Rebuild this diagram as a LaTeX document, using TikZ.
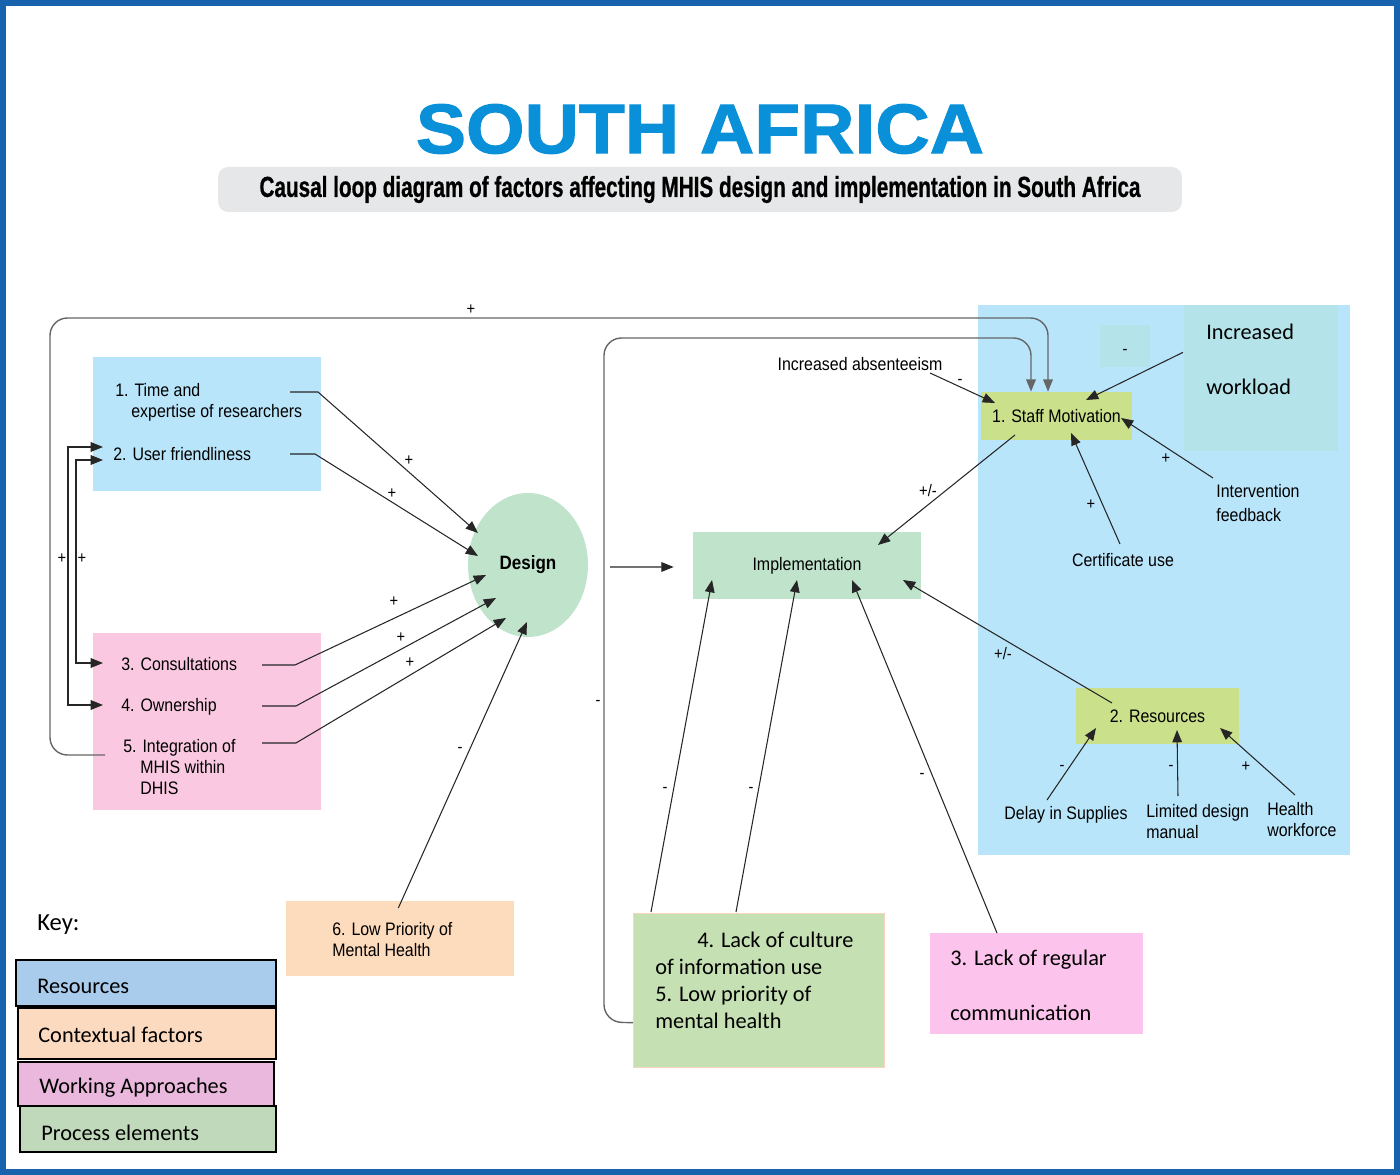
\documentclass[tikz,border=0pt]{standalone}
\usepackage{fontspec}
\usetikzlibrary{arrows.meta, positioning, shapes.geometric}

\newfontfamily\narrow[FakeStretch=0.88]{Liberation Sans}
\newfontfamily\condensed[FakeStretch=0.715, FakeBold=0.6]{Liberation Sans}
\newfontfamily\heavy[FakeBold=1.5, FakeStretch=1.07]{Liberation Sans}
\newfontfamily\calib{Carlito}

\definecolor{frameblue}{HTML}{1763AE}
\definecolor{titleblue}{HTML}{0A90D9}
\definecolor{subgray}{HTML}{E6E7E8}
\definecolor{resblue}{HTML}{B9E5FB}
\definecolor{wappink}{HTML}{FAC9E1}
\definecolor{commpink}{HTML}{FCC4EC}
\definecolor{mint}{HTML}{BFE4CB}
\definecolor{ygreen}{HTML}{CBE08A}
\definecolor{peach}{HTML}{FDDBBD}
\definecolor{peachline}{HTML}{F8D5BE}
\definecolor{procgreen}{HTML}{C5E0B3}
\definecolor{workteal}{HTML}{B4E3EA}
\definecolor{keyblue}{HTML}{A9CCEC}
\definecolor{keypeach}{HTML}{FCDAC0}
\definecolor{keypink}{HTML}{EAB8DC}
\definecolor{keygreen}{HTML}{BFD9BA}

\begin{document}
\begin{tikzpicture}[x=0.02cm, y=-0.02cm, >={Triangle[length=7pt,width=5.5pt]},
	every node/.style={inner sep=0pt},
	lbl/.style={font=\narrow\fontsize{10.3}{12}\selectfont, align=left},
	sgn/.style={font=\narrow\fontsize{9.5}{10}\selectfont},
	cal/.style={font=\calib\fontsize{12.7}{15.3}\selectfont, align=left},
	area/.style={anchor=north west, draw=none},
	arr/.style={draw=black!85, line width=0.6pt, ->},
	loopline/.style={draw=black!60, line width=0.8pt, rounded corners=0.35cm, ->},
	keybox/.style={anchor=north west, draw=black, line width=1.4pt}]
	\useasboundingbox (0,0) rectangle (1400,1175);

	% heading
	\node (title) at (700,129) [font=\heavy\bfseries\fontsize{40}{40}\selectfont, text=titleblue] {SOUTH AFRICA};
	\node (subtitle) at (700,189.5) [fill=subgray, rounded corners=0.2cm, minimum width=19.28cm,
		minimum height=0.9cm, font=\condensed\bfseries\fontsize{16.5}{16.5}\selectfont]
		{Causal loop diagram of factors affecting MHIS design and implementation in South Africa};

	% left side
	\node (resbox) at (93,357) [area, fill=resblue, minimum width=4.56cm, minimum height=2.68cm] {};
	\node (wapbox) at (93,633) [area, fill=wappink, minimum width=4.56cm, minimum height=3.54cm] {};
	\node (design) at (528,565) [ellipse, fill=mint, minimum width=2.4cm, minimum height=2.88cm,
		font=\narrow\bfseries\fontsize{11}{12}\selectfont] {Design};

	\node (time) at (115,383) [lbl, anchor=north west] {1. Time and\\\hspace*{0.32cm}expertise of researchers};
	\node (user) at (113,454) [lbl, anchor=west] {2. User friendliness};
	\node (consult) at (121,664) [lbl, anchor=west] {3. Consultations};
	\node (own) at (121,707) [lbl, anchor=west] {4. Ownership};
	\node (integ) at (123,739) [lbl, anchor=north west] {5. Integration of\\\hspace*{0.34cm}MHIS within\\\hspace*{0.34cm}DHIS};

	\node (lowpri) at (286,901) [area, fill=peach, minimum width=4.56cm, minimum height=1.5cm] {};
	\node (lowtxt) at (332,922) [lbl, anchor=north west] {6. Low Priority of\\Mental Health};

	\draw[arr] ([shift={(175,9)}]time.north west) -- ++(28,0) -- ([shift={(-50,-32)}]design.center);
	\draw[arr] ([shift={(177,0)}]user.west) -- ++(25,0) -- ([shift={(-50,-9)}]design.center);
	\draw[arr] ([shift={(141,1)}]consult.west) -- ++(33,0) -- ([shift={(-42,10)}]design.center);
	\draw[arr] ([shift={(141,-1)}]own.west) -- ++(34,0) -- ([shift={(-32,33)}]design.center);
	\draw[arr] ([shift={(139,4)}]integ.north west) -- ++(34,0) -- ([shift={(-22,53)}]design.center);
	\draw[arr] ([shift={(-2,7)}]lowpri.north) -- ([shift={(-1,57)}]design.center);

	\draw[arr, <->] ([shift={(-10,-7)}]user.west) -- (68,447) -- (68,705) -- ([shift={(-18,-2)}]own.west);
	\draw[arr, <->] ([shift={(-10,6)}]user.west) -- (76,460) -- (76,663) -- ([shift={(-18,-1)}]consult.west);

	\node (p1) at (409,461) [sgn] {+};
	\node (p2) at (392,494) [sgn] {+};
	\node (p3) at (394,602) [sgn] {+};
	\node (p4) at (401,638) [sgn] {+};
	\node (p5) at (410,663) [sgn] {+};
	\node (m6) at (460,750) [sgn] {-};
	\node (pa) at (62,559) [sgn] {+};
	\node (pb) at (82,559) [sgn] {+};

	% middle
	\node (impl) at (807,565.5) [lbl, fill=mint, minimum width=4.56cm, minimum height=1.34cm] {Implementation};
	\draw[arr] ([shift={(82,2)}]design.center) -- ([shift={(-19,1.5)}]impl.west);

	\node (lack) at (633,913) [area, fill=procgreen, draw=peachline, line width=0.8pt, minimum width=5.02cm, minimum height=3.08cm] {};
	\node (lacktxt) at (655,932) [cal, anchor=north west] {\hspace*{0.84cm}4. Lack of culture\\of information use\\5. Low priority of\\mental health};
	\node (comm) at (930,933) [area, fill=commpink, minimum width=4.26cm, minimum height=2.02cm] {};
	\node (commtxt) at (950,950) [cal, anchor=north west] {3. Lack of regular\\[0.56cm]communication};

	\draw[arr] ([shift={(18,-1)}]lack.north west) -- ([shift={(-95,14.5)}]impl.center);
	\draw[arr] ([shift={(103,-1)}]lack.north west) -- ([shift={(-10,14.5)}]impl.center);
	\draw[arr] ([shift={(67,0)}]comm.north west) -- ([shift={(45,14.5)}]impl.center);
	\node (m7) at (665,790) [sgn] {-};
	\node (m8) at (751,790) [sgn] {-};
	\node (m9) at (922,776) [sgn] {-};

	% right panel
	\node (panel) at (978,305) [area, fill=resblue, minimum width=7.44cm, minimum height=11cm] {};
	\node (work) at (1184,305) [area, fill=workteal, minimum width=3.08cm, minimum height=2.92cm] {};
	\node (worktxt) at (1206,324) [cal, anchor=north west] {Increased\\[0.56cm]workload};
	\node (minusbox) at (1100,325) [area, fill=workteal, minimum width=1cm, minimum height=0.84cm] {};
	\node (minus) at (1125,352) [sgn] {-};

	\node (staff) at (1056.5,416) [lbl, fill=ygreen, minimum width=3.02cm, minimum height=0.96cm] {1. Staff Motivation};
	\node (absent) at (860,364) [lbl] {Increased absenteeism};
	\node (interv) at (1216,484) [lbl, anchor=north west, font=\narrow\fontsize{10.3}{13.6}\selectfont] {Intervention\\feedback};
	\node (cert) at (1123,560) [lbl] {Certificate use};

	\draw[arr] ([shift={(70,9)}]absent.center) -- ([shift={(-61.5,-13)}]staff.center);
	\draw[arr] ([shift={(-1,-26)}]work.west) -- ([shift={(29.5,-16)}]staff.center);
	\draw[arr] ([shift={(-3,-6)}]interv.north west) -- ([shift={(64.5,2)}]staff.center);
	\draw[arr] ([shift={(-3,-16)}]cert.center) -- ([shift={(14.5,17)}]staff.center);
	\draw[arr] ([shift={(-41.5,19)}]staff.center) -- ([shift={(71,-20.5)}]impl.center);
	\node (ma) at (960,382) [sgn] {-};
	\node (pi) at (1166,459) [sgn] {+};
	\node (pc) at (1091,505) [sgn] {+};
	\node (pm) at (928,491) [sgn] {+/-};

	\node (resrc) at (1157.5,716) [lbl, fill=ygreen, minimum width=3.26cm, minimum height=1.12cm] {2. Resources};
	\node (delay) at (1066,815) [lbl] {Delay in Supplies};
	\node (limited) at (1146,804) [lbl, anchor=north west] {Limited design\\manual};
	\node (health) at (1267,802) [lbl, anchor=north west] {Health\\workforce};

	\draw[arr] ([shift={(-45.5,-13)}]resrc.center) -- ([shift={(96,14.5)}]impl.center);
	\draw[arr] ([shift={(-19,-15)}]delay.center) -- ([shift={(-61.5,12)}]resrc.center);
	\draw[arr] ([shift={(32,-8)}]limited.north west) -- ([shift={(19.5,14)}]resrc.center);
	\draw[arr] ([shift={(28,-7)}]health.north west) -- ([shift={(62.5,12)}]resrc.center);
	\node (pr) at (1003,654) [sgn] {+/-};
	\node (md) at (1062,768) [sgn] {-};
	\node (mm) at (1171,768) [sgn] {-};
	\node (ph) at (1246,767) [sgn] {+};

	% feedback loops
	\draw[loopline] ([shift={(-18,16)}]integ.north west) -- (50,755) -- (50,318) -- (1048,318) -- ([shift={(-8.5,0)}]staff.north);
	\draw[loopline] ([shift={(0,32)}]lack.west) -- (604,1022) -- (604,338) -- (1031,338) -- ([shift={(-25.5,0)}]staff.north);
	\node (pl) at (471,310) [sgn] {+};
	\node (ml) at (598,703) [sgn] {-};

	% key
	\node (keyhd) at (37,925) [anchor=west, font=\calib\fontsize{14}{16}\selectfont] {Key:};
	\node (k1) at (15,959) [keybox, fill=keyblue, minimum width=5.2cm, minimum height=0.92cm] {};
	\node (k2) at (17,1007) [keybox, fill=keypeach, minimum width=5.16cm, minimum height=1.02cm] {};
	\node (k3) at (17,1061) [keybox, fill=keypink, minimum width=5.12cm, minimum height=0.88cm] {};
	\node (k4) at (19,1105) [keybox, fill=keygreen, minimum width=5.12cm, minimum height=0.92cm] {};
	\node (k1t) at (37,986) [cal, anchor=west] {Resources};
	\node (k2t) at (38,1035) [cal, anchor=west] {Contextual factors};
	\node (k3t) at (39,1088) [cal, anchor=west] {Working Approaches};
	\node (k4t) at (41,1133) [cal, anchor=west] {Process elements};

	% frame
	\draw[frameblue, line width=0.12cm] (3,3) rectangle (1397,1172);
\end{tikzpicture}
\end{document}
